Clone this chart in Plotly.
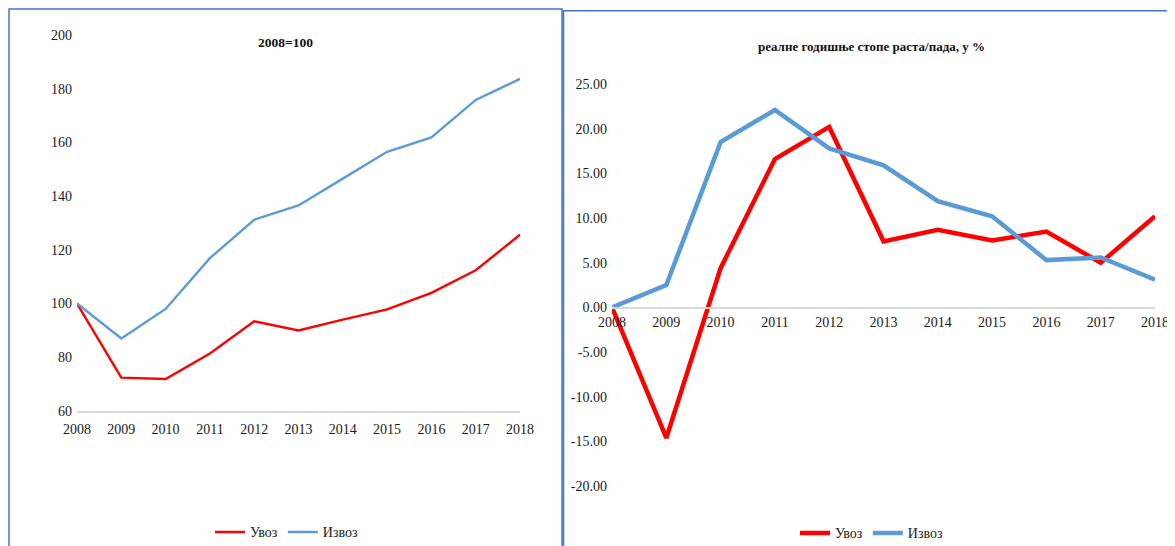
import plotly.graph_objects as go

W, H = 1175, 546
# Page offset (browser body margin) and vertical calibration
OFF_X, OFF_Y, SY = 8.0, 8.2, 0.997

years = [2008, 2009, 2010, 2011, 2012, 2013, 2014, 2015, 2016, 2017, 2018]

# Left panel: index 2008=100
import_index = [100, 72.4, 71.9, 81.4, 93.4, 90.0, 94.0, 97.8, 104.0, 112.4, 125.6]
export_index = [100, 87.0, 98.0, 116.9, 131.2, 136.5, 146.5, 156.5, 161.8, 175.8, 183.6]

# Right panel: real annual growth rates, %
import_growth = [0, -14.6, 4.4, 16.6, 20.2, 7.4, 8.7, 7.5, 8.5, 5.0, 10.2]
export_growth = [0, 2.5, 18.5, 22.1, 17.8, 15.9, 11.9, 10.2, 5.3, 5.6, 3.1]

left_yticks = [60, 80, 100, 120, 140, 160, 180, 200]
right_yticks = [-20, -15, -10, -5, 0, 5, 10, 15, 20, 25]
right_yticktext = [f"{v:.2f}" for v in right_yticks]

names = ["Увоз", "Извоз"]
title_left = "2008=100"
title_right = "реалне годишње стопе раста/пада, у %"

RED = "#FF0000"
BLUE = "#5B9BD5"
BORDER = "#4472C4"
FONT = "Liberation Serif"

def px(x):
    return (x - OFF_X) / W

def py(y):
    return (H - (y - OFF_Y) / SY) / H

fig = go.Figure()

fig.add_trace(go.Scatter(x=years, y=import_index, name=names[0], mode="lines",
                         line=dict(color=RED, width=2.4), xaxis="x", yaxis="y",
                         legend="legend", cliponaxis=False))
fig.add_trace(go.Scatter(x=years, y=export_index, name=names[1], mode="lines",
                         line=dict(color=BLUE, width=2.4), xaxis="x", yaxis="y",
                         legend="legend", cliponaxis=False))
fig.add_trace(go.Scatter(x=years, y=import_growth, name=names[0], mode="lines",
                         line=dict(color=RED, width=4.5), xaxis="x2", yaxis="y2",
                         legend="legend2", cliponaxis=False))
fig.add_trace(go.Scatter(x=years, y=export_growth, name=names[1], mode="lines",
                         line=dict(color=BLUE, width=4.5), xaxis="x2", yaxis="y2",
                         legend="legend2", cliponaxis=False))

tickfont = dict(family=FONT, size=14, color="#1a1a1a")

fig.update_layout(
    template="none",
    width=W, height=H,
    margin=dict(l=0, r=0, t=0, b=0, pad=0),
    paper_bgcolor="white", plot_bgcolor="white",
    font=dict(family=FONT, size=14, color="#1a1a1a"),
    xaxis=dict(domain=[px(77), px(520)], range=[2008, 2018], anchor="y",
               tickvals=years, ticktext=[str(y) for y in years],
               showgrid=False, zeroline=False, showline=True,
               linecolor="#d9d9d9", linewidth=1.5, ticks="",
               ticklabelstandoff=4, tickfont=tickfont, automargin=False),
    yaxis=dict(domain=[py(410), py(35)], range=[60, 200], anchor="x",
               tickvals=left_yticks, showgrid=False, zeroline=False,
               showline=False, ticks="", ticklabelstandoff=4, tickfont=tickfont,
               automargin=False),
    xaxis2=dict(domain=[px(612), px(1155)], range=[2008, 2018], anchor="free",
                position=py(307),
                tickvals=years, ticktext=[str(y) for y in years],
                showgrid=False, zeroline=False, showline=True,
                linecolor="#d9d9d9", linewidth=1.5, ticks="",
                ticklabelstandoff=2, tickfont=tickfont, automargin=False),
    yaxis2=dict(domain=[py(485), py(84)], range=[-20, 25], anchor="x2",
                tickvals=right_yticks, ticktext=right_yticktext,
                showgrid=False, zeroline=False, showline=False, ticks="",
                ticklabelstandoff=4, tickfont=tickfont, automargin=False),
    legend=dict(orientation="h", x=px(287), y=py(531), xanchor="center",
                yanchor="middle", font=dict(family=FONT, size=14),
                bgcolor="rgba(0,0,0,0)", itemwidth=30, tracegroupgap=0,
                borderwidth=0),
    legend2=dict(orientation="h", x=px(872), y=py(532), xanchor="center",
                 yanchor="middle", font=dict(family=FONT, size=14),
                 bgcolor="rgba(0,0,0,0)", itemwidth=30, tracegroupgap=0,
                 borderwidth=0),
    annotations=[
        dict(text=f"<b>{title_left}</b>", x=px(285), y=py(43), xref="paper",
             yref="paper", xanchor="center", yanchor="middle", showarrow=False,
             font=dict(family=FONT, size=13.5, color="#111")),
        dict(text=f"<b>{title_right}</b>", x=px(871), y=py(47), xref="paper",
             yref="paper", xanchor="center", yanchor="middle", showarrow=False,
             font=dict(family=FONT, size=13, color="#111")),
    ],
    shapes=[
        dict(type="rect", xref="paper", yref="paper",
             x0=px(9), x1=px(562), y0=py(9.2), y1=py(600),
             line=dict(color=BORDER, width=1.5), layer="below"),
        dict(type="rect", xref="paper", yref="paper",
             x0=px(563.5), x1=px(1200), y0=py(11), y1=py(600),
             line=dict(color=BORDER, width=1.5), layer="below"),
    ],
    showlegend=True,
)

fig.write_html("out.html")
